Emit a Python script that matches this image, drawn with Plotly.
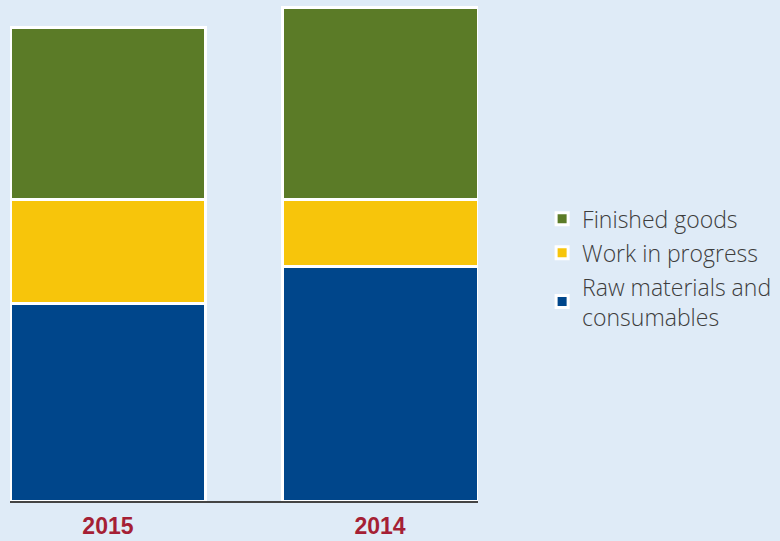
import plotly.graph_objects as go

years = ["2015", "2014"]
raw_materials = [198, 234.5]
work_in_progress = [103.5, 67.5]
finished_goods = [172, 192]

series_names = ["Raw materials and<br>consumables", "Work in progress", "Finished goods"]
colors = ["#00468b", "#f7c50b", "#5b7b27"]
ranks = [3, 2, 1]

fig = go.Figure()
for i, (name, vals, col) in enumerate(zip(series_names, [raw_materials, work_in_progress, finished_goods], colors)):
    fig.add_trace(go.Bar(
        x=years, y=vals, name=name, width=0.72, legendgroup=f"g{i}", legendrank=ranks[i],
        marker=dict(color=col, line=dict(color="white", width=3)),
    ))

fig.update_layout(
    barmode="stack",
    width=780, height=541,
    margin=dict(l=10, r=302, t=0, b=40),
    paper_bgcolor="#dfebf7",
    plot_bgcolor="#dfebf7",
    showlegend=True,
    legend=dict(
        traceorder="grouped",
        x=1.137, xanchor="left", y=0.606, yanchor="top",
        font=dict(family="Open Sans, Liberation Sans, sans-serif", size=23, color="#3d3d3d", weight=300),
        bgcolor="rgba(0,0,0,0)", tracegroupgap=1,
    ),
    xaxis=dict(
        type="category", range=[-0.36, 1.36], automargin=False,
        showline=True, linecolor="#444", linewidth=1.5,
        showgrid=False, zeroline=False, ticks="",
        tickfont=dict(family="Liberation Sans, Arial, sans-serif", size=23, color="#a51f35", weight="bold"),
        ticklabelstandoff=4,
    ),
    yaxis=dict(range=[0, 501], visible=False, showgrid=False, zeroline=False, automargin=False),
)

fig.write_html("out.html", config={"displayModeBar": False},
               post_script="document.body.style.margin='0';document.body.style.overflow='hidden';")
